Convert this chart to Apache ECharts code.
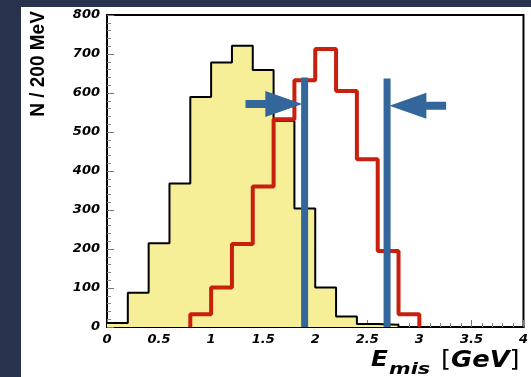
<!DOCTYPE html>
<html>
<head>
<meta charset="utf-8">
<script src="https://cdn.jsdelivr.net/npm/echarts@6/dist/echarts.min.js"></script>
<style>
  html, body { margin:0; padding:0; width:531px; height:377px; overflow:hidden; background:#28324c; }
  #panel { position:absolute; left:21px; top:7px; width:510px; height:370px; background:#ffffff; }
  #chart { position:absolute; left:0; top:0; width:531px; height:377px; }
</style>
</head>
<body>
<div id="panel"></div>
<div id="chart"></div>
<script>
// ---- data ----
var binWidth = 0.2;
var yellowStart = 0.0;
var yellowCounts = [10, 88, 215, 368, 590, 678, 721, 659, 529, 304, 101, 27, 8, 6];
var redStart = 0.8;
var redCounts = [33, 101, 213, 360, 533, 633, 713, 605, 430, 195, 33];
var cutPositions = [1.898, 2.69];
var cutHeights = [640, 637];
var arrowTails = [1.33, 3.257];
var arrowTips = [1.876, 2.712];
var arrowLevels = [572, 567];
var xTicks = [0, 0.5, 1, 1.5, 2, 2.5, 3, 3.5, 4];
var yTicks = [0, 100, 200, 300, 400, 500, 600, 700, 800];

var BLUE = '#33669a';
var RED = '#c8200c';
var YELLOW = '#f7ef98';

function stepData(start, counts, leadingZero) {
  var pts = [];
  if (leadingZero) pts.push([start, 0]);
  for (var i = 0; i < counts.length; i++) {
    pts.push([+(start + i * binWidth).toFixed(3), counts[i]]);
  }
  pts.push([+(start + counts.length * binWidth).toFixed(3), 0]);
  return pts;
}

var tickFont = { fontFamily: 'DejaVu Sans', fontWeight: 'bold', fontStyle: 'italic', fontSize: 13, color: '#000' };

var chart = echarts.init(document.getElementById('chart'), null, { renderer: 'canvas' });

var cutSeries = cutPositions.map(function (x, i) {
  return {
    type: 'line', data: [[x, 0], [x, cutHeights[i]]],
    symbol: 'none', lineStyle: { color: BLUE, width: 7, cap: 'butt' }, z: 5, silent: true
  };
});

var arrowData = arrowTails.map(function (t, i) { return [t, arrowTips[i], arrowLevels[i]]; });

chart.setOption({
  animation: false,
  backgroundColor: 'transparent',
  grid: { left: 107, top: 15, width: 420, height: 312, show: true, borderColor: '#000', borderWidth: 2, backgroundColor: 'transparent' },
  xAxis: {
    type: 'value', min: xTicks[0], max: xTicks[xTicks.length - 1], interval: 0.5,
    axisLine: { show: true, onZero: false, lineStyle: { color: '#000', width: 2 } },
    axisTick: { show: true, inside: true, length: 7, lineStyle: { color: '#777', width: 1 } },
    minorTick: { show: true, splitNumber: 5, length: 4, lineStyle: { color: '#888', width: 1 } },
    axisLabel: Object.assign({ margin: 6, showMaxLabel: true, showMinLabel: true, hideOverlap: false }, tickFont),
    splitLine: { show: false }
  },
  yAxis: {
    type: 'value', min: yTicks[0], max: yTicks[yTicks.length - 1], interval: 100,
    axisLine: { show: true, onZero: false, lineStyle: { color: '#000', width: 2 } },
    axisTick: { show: true, inside: true, length: 7, lineStyle: { color: '#777', width: 1 } },
    minorTick: { show: true, splitNumber: 5, length: 4, lineStyle: { color: '#888', width: 1 } },
    axisLabel: Object.assign({ margin: 7 }, tickFont),
    splitLine: { show: false }
  },
  graphic: [
    { type: 'text', x: 38, y: 64, rotation: Math.PI / 2, scaleY: 1.1,
      style: { text: 'N / 200 MeV', fontFamily: 'Liberation Sans', fontWeight: 'bold', fontSize: 19, fill: '#000', align: 'center', verticalAlign: 'middle' } },
    { type: 'text', x: 371, y: 361, scaleX: 1.18,
      style: { text: 'E', fontFamily: 'DejaVu Sans', fontWeight: 'bold', fontStyle: 'italic', fontSize: 21, fill: '#000', align: 'left', verticalAlign: 'middle' } },
    { type: 'text', x: 389, y: 370, scaleX: 1.3,
      style: { text: 'mis', fontFamily: 'DejaVu Sans', fontWeight: 'bold', fontStyle: 'italic', fontSize: 16, fill: '#000', align: 'left', verticalAlign: 'middle' } },
    { type: 'text', x: 441, y: 361, scaleX: 1.12,
      style: { text: '{b|[}{g|GeV}{b|]}', align: 'left', verticalAlign: 'middle',
        rich: {
          b: { fontFamily: 'DejaVu Sans', fontSize: 23, fill: '#000', color: '#000' },
          g: { fontFamily: 'DejaVu Sans', fontWeight: 'bold', fontStyle: 'italic', fontSize: 23, fill: '#000', color: '#000' }
        } } }
  ],
  series: [
    { type: 'line', step: 'end', data: stepData(yellowStart, yellowCounts, false), symbol: 'none',
      lineStyle: { color: '#000', width: 2 }, areaStyle: { color: YELLOW, opacity: 1 }, z: 2, silent: true },
    { type: 'line', step: 'end', data: stepData(redStart, redCounts, true), symbol: 'none',
      lineStyle: { color: RED, width: 4 }, z: 3, silent: true }
  ].concat(cutSeries).concat([
    { type: 'custom', data: arrowData, encode: { x: [0, 1], y: 2 }, z: 6, silent: true, clip: false,
      renderItem: function (params, api) {
        var tail = api.coord([api.value(0), api.value(2)]);
        var tip = api.coord([api.value(1), api.value(2)]);
        var dir = tip[0] > tail[0] ? 1 : -1;
        var headLen = 37, headHalf = 13, shaftHalf = 4;
        var bx = tip[0] - dir * headLen;
        var y = tip[1];
        return { type: 'polygon',
          shape: { points: [[tail[0], y - shaftHalf], [bx, y - shaftHalf], [bx, y - headHalf], [tip[0], y],
                            [bx, y + headHalf], [bx, y + shaftHalf], [tail[0], y + shaftHalf]] },
          style: { fill: BLUE } };
      } }
  ])
});
</script>
</body>
</html>
